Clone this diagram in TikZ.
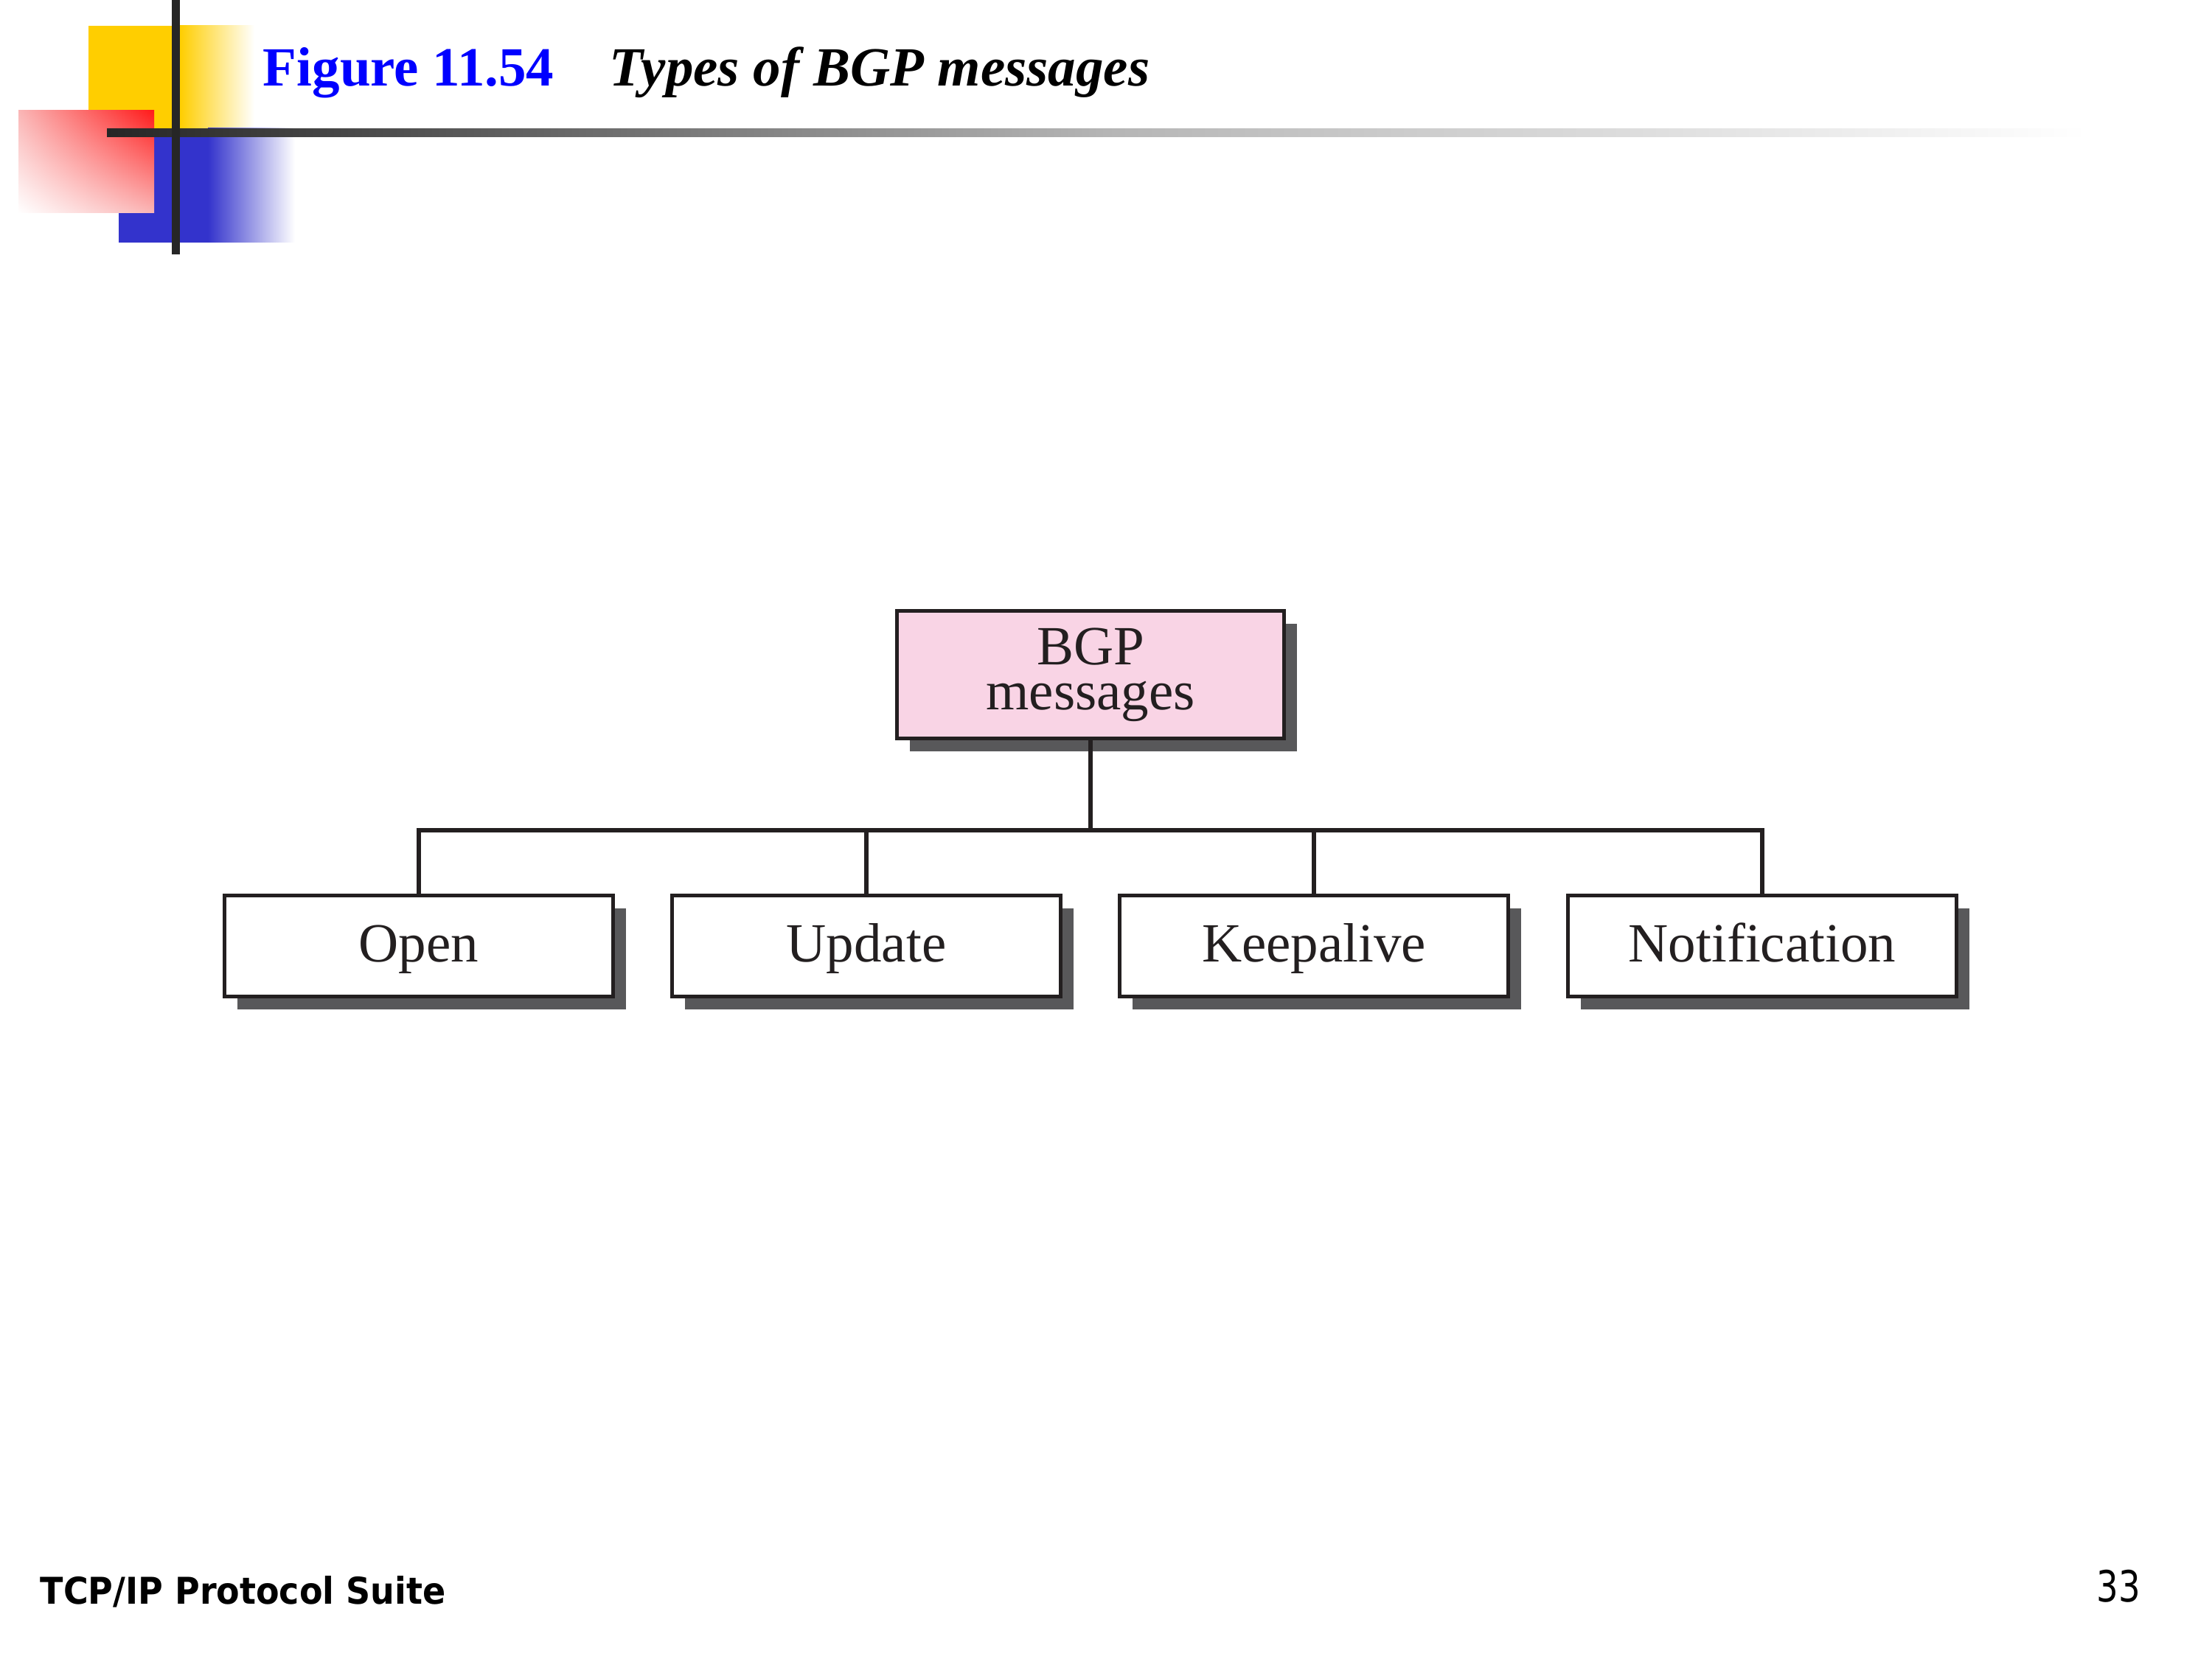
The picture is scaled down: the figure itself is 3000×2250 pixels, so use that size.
\documentclass[tikz,border=0pt]{standalone}
\usepackage{fontspec}
\setmainfont{Liberation Serif}
\newfontfamily\footfont{DejaVu Sans}
\usetikzlibrary{shadows,shadings}
\definecolor{decoyellow}{RGB}{255,206,0}
\definecolor{decoblue}{RGB}{51,51,204}
\definecolor{decored}{RGB}{255,26,26}
\definecolor{decopink}{RGB}{250,182,182}
\definecolor{decoline}{RGB}{38,38,38}
\definecolor{rulemid}{RGB}{181,181,181}
\definecolor{titleblue}{RGB}{0,0,255}
\definecolor{boxpink}{RGB}{249,212,229}
\definecolor{shadowgray}{RGB}{88,88,90}
\definecolor{inkblack}{RGB}{35,31,32}
\begin{document}
\begin{tikzpicture}[x=0.24pt,y=-0.24pt,
  boxbase/.style={draw=inkblack,line width=1.2pt,rectangle,inner sep=0pt,
    font=\fontsize{18}{14.6}\selectfont,text=inkblack,
    drop shadow={shadow xshift=4.3pt,shadow yshift=-4.3pt,fill=shadowgray,opacity=1}},
  rootbox/.style={boxbase,fill=boxpink,minimum width=126pt,minimum height=41.5pt,align=center},
  leafbox/.style={boxbase,fill=white,minimum width=126.5pt,minimum height=32.9pt,text height=12pt,text depth=1.5pt},
  conn/.style={draw=inkblack,line width=1.5pt,line join=miter}]
\useasboundingbox (0,0) rectangle (3000,2250);
% header decoration
\fill[decoyellow] (120,35) rectangle (245,174);
\shade[left color=decoyellow,right color=white] (244,35) rectangle (345,174);
\fill[decoblue] (161,174) rectangle (283,329);
\shade[left color=decoblue,right color=white] (282,174) rectangle (400,329);
\shade[upper right=decored,lower left=white,upper left=decopink,lower right=decopink] (25,150) rectangle (209,289);
\shade[left color=decoline,right color=rulemid] (145,175) rectangle (1500,186);
\shade[left color=rulemid,right color=white] (1499,175) rectangle (2830,186);
\fill[decoline] (233,0) rectangle (244,345);
% title
\node[anchor=base west,inner sep=0pt,text=titleblue,font=\fontsize{18}{20}\selectfont\bfseries] (fig) at (356,117) {Figure 11.54};
\node[anchor=base west,inner sep=0pt,font=\fontsize{18}{20}\selectfont\bfseries\itshape] (ttl) at (826,117) {Types of BGP messages};
% diagram
\node[rootbox] (bgp) at (1479,915) {BGP\\messages};
\node[leafbox] (open) at (568,1283) {Open};
\node[leafbox] (upd) at (1175,1283) {Update};
\node[leafbox] (keep) at (1782,1283) {Keepalive};
\node[leafbox] (notif) at (2390,1283) {Notification};
\coordinate (bus) at (1479,1126);
\draw[conn] (bgp.south) -- (bus);
\draw[conn] (open.north) |- (bus) -| (notif.north);
\draw[conn] (upd.north) -- (upd.north |- bus);
\draw[conn] (keep.north) -- (keep.north |- bus);
% footer
\node[anchor=base west,inner sep=0pt,font=\footfont\fontsize{12}{14}\selectfont\bfseries] (foot) at (54,2176) {\scalebox{0.92}[1]{TCP/IP Protocol Suite}};
\node[anchor=base west,inner sep=0pt,font=\footfont\fontsize{14}{16}\selectfont] (page) at (2843,2173) {\scalebox{0.8}[1]{33}};
\end{tikzpicture}
\end{document}
